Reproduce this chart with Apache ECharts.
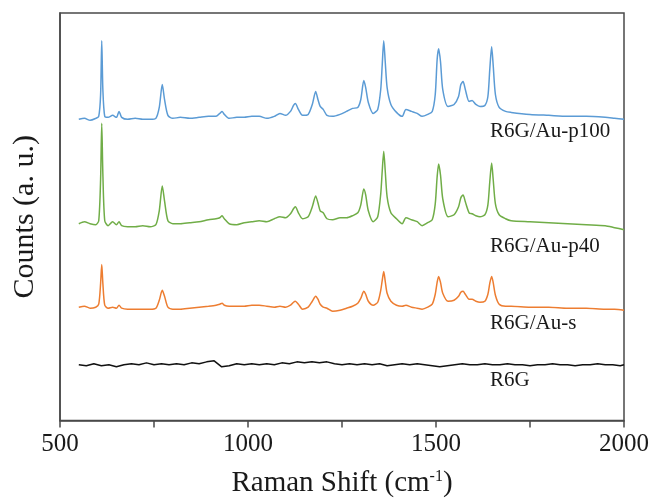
<!DOCTYPE html>
<html>
<head>
<meta charset="utf-8">
<script src="https://cdn.jsdelivr.net/npm/echarts@6/dist/echarts.min.js"></script>
<style>
html, body { margin: 0; padding: 0; background: #fff; }
#chart { width: 654px; height: 503px; }
</style>
</head>
<body>
<div id="chart"></div>
<script>
// raman shift (cm-1) shared by the three SERS spectra
var shift = [550, 565, 580, 595, 603, 608, 611, 614, 619, 628,
    640, 650, 657, 664, 680, 700, 720, 740, 755, 764,
    772, 778, 787, 800, 820, 845, 870, 895, 915, 925,
    931, 937, 950, 970, 990, 1010, 1030, 1050, 1070, 1085,
    1100, 1113, 1121, 1126, 1134, 1145, 1160, 1171, 1180, 1186,
    1192, 1200, 1210, 1225, 1245, 1262, 1278, 1292, 1300, 1308,
    1313, 1320, 1333, 1345, 1353, 1357, 1361, 1365, 1370, 1380,
    1395, 1410, 1420, 1435, 1450, 1463, 1478, 1490, 1498, 1503,
    1507, 1512, 1518, 1532, 1548, 1560, 1566, 1572, 1578, 1588,
    1596, 1606, 1617, 1630, 1638, 1643, 1648, 1652, 1658, 1668,
    1685, 1700, 1750, 1800, 1850, 1900, 1950, 1975, 2000];

// counts, already offset for stacking (a. u.)
var p100 = [303, 304, 302, 304, 306, 328, 382, 333, 306, 305,
    307, 305, 311, 305, 303, 304, 303, 303, 304, 315,
    338, 323, 307, 304, 305, 304, 305, 306, 306, 309,
    311, 308, 304, 305, 305, 306, 306, 304, 306, 309,
    307, 311, 317, 319, 313, 307, 308, 318, 331, 323,
    316, 313, 307, 306, 308, 311, 314, 315, 323, 342,
    335, 320, 309, 313, 333, 358, 382, 361, 335, 318,
    310, 306, 313, 311, 309, 306, 308, 311, 328, 363,
    374, 361, 333, 316, 318, 326, 338, 341, 333, 321,
    322, 318, 316, 317, 326, 353, 376, 358, 328, 315,
    311, 310, 308, 307, 306, 306, 305, 304, 303];

var p40 = [198, 200, 198, 197, 201, 243, 299, 248, 201, 196,
    200, 197, 200, 196, 195, 195, 196, 195, 197, 211,
    236, 221, 201, 198, 198, 199, 200, 202, 203, 204,
    206, 203, 198, 197, 199, 200, 201, 200, 203, 205,
    204, 208, 213, 215, 209, 203, 205, 215, 226, 219,
    211, 209, 203, 202, 204, 204, 206, 209, 217, 233,
    227, 211, 200, 205, 228, 251, 271, 251, 225, 209,
    203, 198, 204, 202, 200, 196, 199, 202, 218, 245,
    258, 247, 223, 205, 207, 215, 224, 227, 220, 209,
    208, 206, 205, 207, 217, 240, 259, 243, 218, 207,
    203, 201, 200, 199, 198, 197, 196, 194, 192];

var auS = [114, 115, 113, 114, 117, 138, 157, 138, 116, 113,
    114, 113, 116, 113, 112, 112, 112, 112, 113, 121,
    131, 125, 114, 112, 112, 113, 114, 115, 116, 117,
    118, 116, 115, 115, 115, 116, 116, 115, 114, 115,
    114, 116, 119, 120, 117, 112, 114, 120, 125, 122,
    117, 114, 113, 110, 111, 113, 115, 118, 123, 130,
    127, 120, 116, 119, 131, 141, 150, 140, 128, 120,
    116, 115, 116, 114, 113, 112, 114, 117, 127, 139,
    145, 139, 128, 120, 121, 125, 129, 130, 127, 122,
    122, 120, 119, 120, 127, 138, 145, 139, 126, 117,
    115, 115, 114, 114, 113, 113, 112, 112, 111];

// bare R6G, its own sampling
var shiftR6G = [550, 570, 590, 610, 630, 650, 670, 690, 710, 730,
    750, 770, 790, 810, 830, 850, 870, 890, 910, 930,
    950, 970, 990, 1010, 1030, 1050, 1070, 1090, 1110, 1130,
    1150, 1170, 1190, 1210, 1230, 1250, 1270, 1290, 1310, 1330,
    1350, 1370, 1390, 1410, 1430, 1450, 1470, 1490, 1510, 1530,
    1550, 1570, 1590, 1610, 1630, 1650, 1670, 1690, 1710, 1730,
    1750, 1770, 1790, 1810, 1830, 1850, 1870, 1890, 1910, 1930,
    1950, 1970, 1990, 2000];
var r6g = [56, 55, 57, 55, 56, 54, 56, 57, 56, 58,
    56, 57, 56, 57, 56, 58, 57, 59, 60, 54,
    55, 57, 56, 57, 56, 57, 56, 58, 57, 59,
    58, 59, 58, 59, 57, 56, 57, 56, 57, 56,
    57, 55, 56, 57, 56, 57, 56, 55, 54, 55,
    56, 57, 56, 56, 57, 56, 56, 57, 56, 56,
    55, 56, 56, 57, 56, 56, 55, 56, 56, 57,
    56, 56, 55, 56];

var xTicks = [500, 1000, 1500, 2000];
var names = ['R6G/Au-p100', 'R6G/Au-p40', 'R6G/Au-s', 'R6G'];

function pairs(xs, ys) {
    return xs.map(function(x, i) { return [x, ys[i]]; });
}

var serif = '"Liberation Serif", "Times New Roman", serif';
var frame = '#4a4a4a';

var myChart = echarts.init(document.getElementById('chart'));

function line(name, xs, ys, color, smooth) {
    return {
        name: name,
        type: 'line',
        data: pairs(xs, ys),
        showSymbol: false,
        smooth: smooth,
        lineStyle: { color: color, width: 1.5 },
        silent: true
    };
}

var option = {
    animation: false,
    backgroundColor: '#fff',
    grid: {
        left: 60, right: 30, top: 13, bottom: 80,
        show: true, borderColor: frame, borderWidth: 1.5
    },
    xAxis: {
        type: 'value',
        min: 500, max: 2000, interval: 250,
        name: '{a|Raman Shift (cm}{s|-1}{a|)}',
        nameLocation: 'middle',
        nameGap: 48,
        nameTextStyle: {
            rich: {
                a: { fontFamily: serif, fontSize: 29, color: '#1a1a1a' },
                s: { fontFamily: serif, fontSize: 16, color: '#1a1a1a', verticalAlign: 'top', padding: [0, 0, 14, 0] }
            }
        },
        axisLine: { lineStyle: { color: frame, width: 1.5 } },
        axisTick: { inside: false, length: 7, lineStyle: { color: frame, width: 1.5 } },
        axisLabel: {
            margin: 11,
            fontFamily: serif, fontSize: 25, color: '#1a1a1a',
            formatter: function(v) { return xTicks.indexOf(v) >= 0 ? String(v) : ''; }
        },
        splitLine: { show: false }
    },
    yAxis: {
        type: 'value',
        min: 0, max: 410,
        name: 'Counts (a. u.)',
        nameLocation: 'middle',
        nameGap: 20,
        nameTextStyle: { fontFamily: serif, fontSize: 30, color: '#1a1a1a' },
        axisLine: { show: true, lineStyle: { color: frame, width: 1.5 } },
        axisTick: { show: false },
        axisLabel: { show: false },
        splitLine: { show: false }
    },
    graphic: [
        { type: 'text', left: 490, top: 121, style: { text: names[0], font: '21px ' + serif, fill: '#1a1a1a' } },
        { type: 'text', left: 490, top: 236, style: { text: names[1], font: '21px ' + serif, fill: '#1a1a1a' } },
        { type: 'text', left: 490, top: 313, style: { text: names[2], font: '21px ' + serif, fill: '#1a1a1a' } },
        { type: 'text', left: 490, top: 370, style: { text: names[3], font: '21px ' + serif, fill: '#1a1a1a' } }
    ],
    series: [
        line(names[3], shiftR6G, r6g, '#111111', false),
        line(names[2], shift, auS, '#ed7d31', 0.25),
        line(names[1], shift, p40, '#70ad47', 0.25),
        line(names[0], shift, p100, '#5b9bd5', 0.25)
    ]
};

myChart.setOption(option);
</script>
</body>
</html>
